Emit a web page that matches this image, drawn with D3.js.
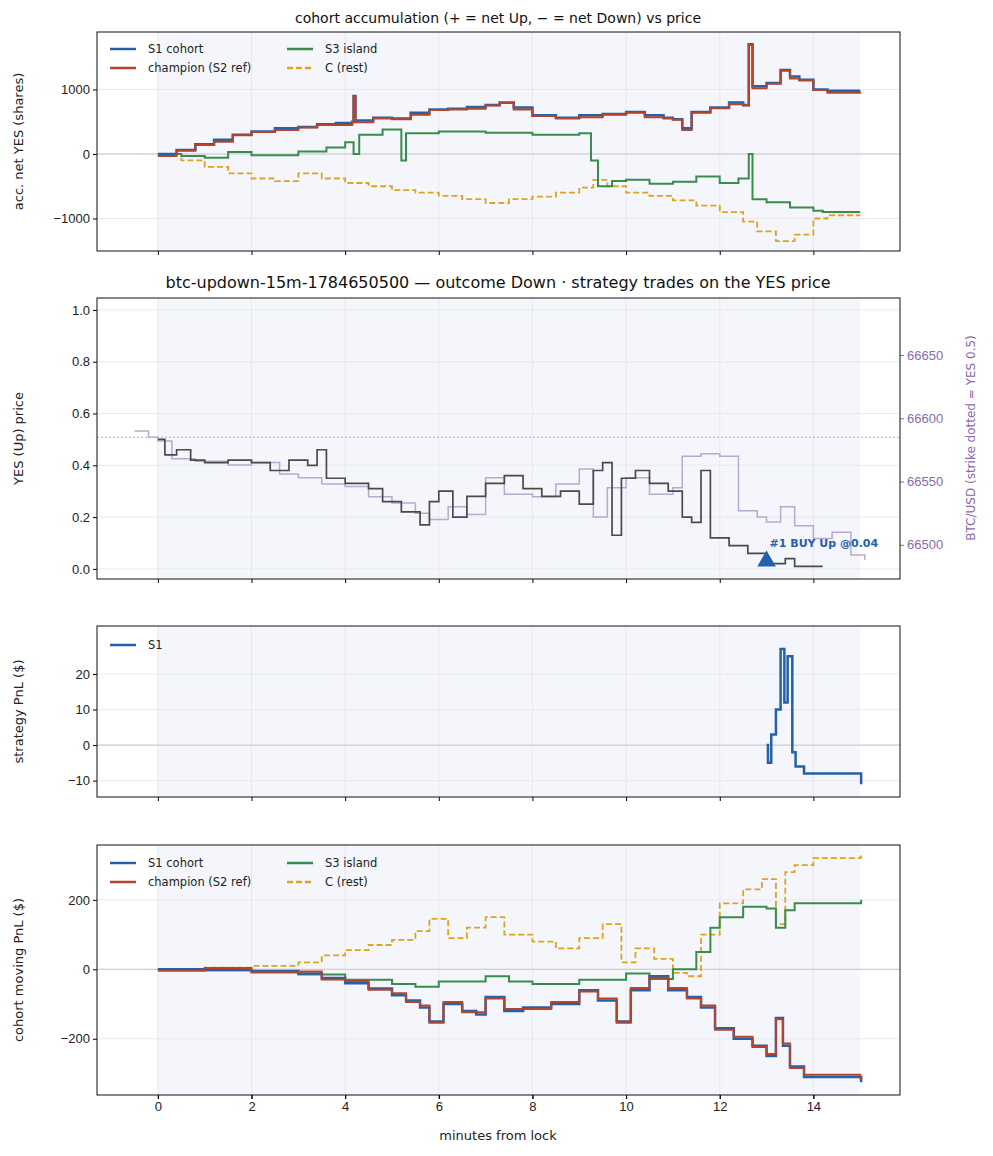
<!DOCTYPE html>
<html><head><meta charset="utf-8">
<script src="https://cdn.jsdelivr.net/npm/d3@7"></script>
<style>body{margin:0;background:#fff;font-family:"DejaVu Sans",sans-serif;}</style>
</head><body><svg id="fig" width="993" height="1156"></svg>
<script>
// ---- data ([minutes, value] step points) ----
var accS1 = [[0,0],[0.4,60],[0.8,150],[1.2,220],[1.6,300],[2,350],[2.5,400],[3,420],[3.4,460],[3.8,480],[4.15,500],[4.18,900],[4.22,520],[4.6,560],[5,550],[5.4,640],[5.8,690],[6.2,700],[6.6,730],[7,760],[7.3,800],[7.6,720],[8,600],[8.5,560],[9,600],[9.5,620],[10,650],[10.4,600],[10.8,560],[11,540],[11.2,400],[11.4,650],[11.8,720],[12.2,800],[12.5,760],[12.62,1700],[12.7,1050],[13,1100],[13.3,1300],[13.5,1200],[13.7,1150],[14,1000],[14.3,980],[15,980]];
var accChamp = accS1.map(function(d,i){ return [d[0], d[1] - (i%3==0 ? 30 : 10)]; });
var accS3 = [[0,0],[0.5,-30],[1,-60],[1.5,30],[2,-20],[3,40],[3.6,100],[4,180],[4.18,0],[4.3,300],[4.8,380],[5.2,-100],[5.3,320],[6,350],[7,330],[8,300],[9,320],[9.25,-100],[9.4,-500],[9.7,-420],[10,-400],[10.5,-460],[11,-430],[11.5,-350],[12,-450],[12.4,-380],[12.62,0],[12.7,-700],[13,-750],[13.5,-830],[14,-880],[14.2,-900],[15,-900]];
var accC = [[0,0],[0.5,-100],[1,-200],[1.5,-300],[2,-380],[2.5,-420],[3,-300],[3.5,-380],[4,-450],[4.5,-500],[5,-560],[5.5,-600],[6,-650],[6.5,-700],[7,-760],[7.5,-700],[8,-660],[8.5,-600],[9,-520],[9.3,-400],[9.6,-500],[10,-600],[10.5,-650],[11,-720],[11.5,-800],[12,-900],[12.5,-1050],[12.8,-1200],[13.2,-1350],[13.6,-1250],[14,-1000],[14.3,-950],[15,-950]];

var yesPrice = [[0,0.5],[0.15,0.44],[0.4,0.46],[0.7,0.42],[1,0.41],[1.5,0.42],[2,0.41],[2.4,0.38],[2.8,0.42],[3.2,0.4],[3.4,0.46],[3.6,0.35],[4,0.33],[4.5,0.31],[4.8,0.26],[5.2,0.22],[5.6,0.17],[5.8,0.26],[6,0.30],[6.3,0.2],[6.6,0.28],[7,0.33],[7.4,0.36],[7.8,0.31],[8.2,0.28],[8.6,0.3],[9,0.25],[9.3,0.38],[9.5,0.41],[9.7,0.13],[9.9,0.35],[10.2,0.38],[10.5,0.33],[10.9,0.3],[11.2,0.2],[11.4,0.18],[11.6,0.38],[11.8,0.12],[12.2,0.09],[12.6,0.06],[13,0.02],[13.4,0.04],[13.6,0.01],[14.2,0.01]];
var btcPrice = [[-0.5,66590],[-0.2,66585],[0,66582],[0.3,66568],[0.8,66566],[1.5,66563],[2,66565],[2.6,66556],[3,66553],[3.5,66548],[4,66546],[4.5,66538],[5,66533],[5.5,66525],[5.8,66520],[6.2,66530],[6.6,66524],[7,66553],[7.4,66540],[8,66538],[8.5,66548],[9,66560],[9.3,66522],[9.6,66545],[10,66553],[10.5,66540],[11,66545],[11.2,66570],[11.6,66572],[12,66570],[12.4,66527],[12.8,66522],[13,66518],[13.3,66530],[13.6,66515],[14,66505],[14.4,66510],[14.8,66492],[15.1,66488]];
var strike = 66585;
var trades = [{t:13, p:0.03, label:"#1 BUY Up @0.04"}];

var pnlS1 = [[13,0],[13.03,-5],[13.1,3],[13.2,10],[13.3,27],[13.38,12],[13.45,25],[13.55,-2],[13.62,-6],[13.8,-8],[14,-8],[15,-8],[15.02,-11]];

var mvS1 = [[0,0],[1,-2],[2,-5],[3,-12],[3.5,-25],[4,-40],[4.5,-55],[5,-75],[5.3,-90],[5.6,-110],[5.8,-150],[6.1,-100],[6.5,-120],[6.8,-130],[7,-80],[7.4,-120],[7.8,-110],[8.4,-100],[9,-60],[9.4,-90],[9.8,-150],[10.1,-60],[10.5,-20],[10.9,-60],[11.3,-80],[11.6,-110],[11.9,-170],[12.3,-200],[12.7,-220],[13,-250],[13.2,-140],[13.35,-220],[13.5,-280],[13.8,-310],[15,-310],[15.02,-325]];
var mvChamp = mvS1.map(function(d,i){ return [d[0], d[1] + (i%2 ? 6 : -4)]; });
var mvS3 = [[0,0],[1,-3],[2,-8],[3,-15],[4,-30],[5,-42],[5.5,-50],[6,-35],[7,-20],[7.5,-35],[8,-42],[9,-30],[10,-12],[10.5,-28],[11,0],[11.5,50],[11.8,120],[12,150],[12.5,180],[13,175],[13.2,120],[13.4,170],[13.6,190],[15,190],[15.02,200]];
var mvC = [[0,0],[1,5],[2,10],[3,20],[3.5,40],[4,55],[4.5,70],[5,85],[5.5,110],[5.8,145],[6.2,90],[6.6,120],[7,150],[7.4,100],[8,80],[8.5,60],[9,90],[9.5,130],[9.9,20],[10.2,60],[10.6,30],[11,-10],[11.3,-20],[11.6,100],[12,190],[12.5,230],[12.9,260],[13.2,130],[13.4,280],[13.6,300],[14,320],[15,322],[15.02,328]];

var xTicks = [0,2,4,6,8,10,12,14];

// ---- layout ----
var L = 97, R = 900;
var svg = d3.select("#fig");
var x = d3.scaleLinear().domain([-1.3, 15.85]).range([L, R]);
var col = {s1:"#2560ab", champ:"#b5442a", s3:"#3b8c4c", c:"#dba520", yes:"#4a4a4a", btc:"#b9a8d2", btcAx:"#8a6aa8"};
var intFmt = d => d < 0 ? "\u2212" + Math.abs(d) : d;

function panel(top, bottom, dom, ticks, ylab, fmt) {
	var y = d3.scaleLinear().domain(dom).range([bottom, top]);
	var g = svg.append("g");
	g.append("rect").attr("x", x(0)).attr("y", top).attr("width", x(15) - x(0)).attr("height", bottom - top).attr("fill", "#f4f6fb");
	xTicks.forEach(function(t){ g.append("line").attr("x1", x(t)).attr("x2", x(t)).attr("y1", top).attr("y2", bottom).attr("stroke", "#e4e6ea").attr("stroke-width", 0.8); });
	ticks.forEach(function(t){ g.append("line").attr("x1", L).attr("x2", R).attr("y1", y(t)).attr("y2", y(t)).attr("stroke", "#e4e6ea").attr("stroke-width", 0.8); });
	g.append("g").attr("transform", "translate(" + L + ",0)")
		.call(d3.axisLeft(y).tickValues(ticks).tickSize(4).tickFormat(fmt || intFmt))
		.call(a => a.select(".domain").remove())
		.selectAll("text").attr("font-size", 13).attr("fill", "#222");
	g.append("g").attr("transform", "translate(0," + bottom + ")")
		.call(d3.axisBottom(x).tickValues(xTicks).tickSize(4).tickFormat(""))
		.call(a => a.select(".domain").remove());
	g.append("text").attr("transform", "translate(" + 23 + "," + (top + bottom) / 2 + ") rotate(-90)")
		.attr("text-anchor", "middle").attr("font-size", 13).attr("fill", "#222").text(ylab);
	return {y: y, g: g, top: top, bottom: bottom};
}
function frame(p) {
	p.g.append("rect").attr("x", L).attr("y", p.top).attr("width", R - L).attr("height", p.bottom - p.top).attr("fill", "none").attr("stroke", "#111").attr("stroke-width", 1);
}
function zero(p) {
	p.g.append("line").attr("x1", L).attr("x2", R).attr("y1", p.y(0)).attr("y2", p.y(0)).attr("stroke", "#c8c8c8").attr("stroke-width", 1);
}
function series(p, data, color, dash, w, yS) {
	var ys = yS || p.y;
	p.g.append("path").datum(data)
		.attr("d", d3.line().x(d => x(d[0])).y(d => ys(d[1])).curve(d3.curveStepAfter))
		.attr("fill", "none").attr("stroke", color).attr("stroke-width", w || 2)
		.attr("stroke-dasharray", dash ? "6,3" : null);
}
function legend(p, items, x0, y0, colW) {
	items.forEach(function(it, i){
		var lx = x0 + Math.floor(i / 2) * colW, ly = y0 + (i % 2) * 19;
		p.g.append("line").attr("x1", lx).attr("x2", lx + 26).attr("y1", ly).attr("y2", ly)
			.attr("stroke", it[1]).attr("stroke-width", 2.5).attr("stroke-dasharray", it[2] ? "6,3" : null);
		p.g.append("text").attr("x", lx + 38).attr("y", ly + 4).attr("font-size", 11.5).attr("fill", "#222").text(it[0]);
	});
}

// panel 1
var p1 = panel(32, 251, [-1504, 1891], [-1000, 0, 1000], "acc. net YES (shares)");
zero(p1);
series(p1, accC, col.c, true, 1.8);
series(p1, accS3, col.s3, false, 2);
series(p1, accS1, col.s1, false, 2.5);
series(p1, accChamp, col.champ, false, 2);
frame(p1);
var leg = [["S1 cohort", col.s1], ["champion (S2 ref)", col.champ], ["S3 island", col.s3], ["C (rest)", col.c, true]];
legend(p1, leg, 110, 49, 177);
svg.append("text").attr("x", 498).attr("y", 23).attr("text-anchor", "middle").attr("font-size", 14).attr("fill", "#111")
	.text("cohort accumulation (+ = net Up, \u2212 = net Down) vs price");

// panel 2
var p2 = panel(298, 579, [-0.039, 1.046], [0, 0.2, 0.4, 0.6, 0.8, 1.0], "YES (Up) price", d3.format(".1f"));
var yB = d3.scaleLinear().domain([66473, 66695]).range([579, 298]);
p2.g.append("g").attr("transform", "translate(" + R + ",0)")
	.call(d3.axisRight(yB).tickValues([66500, 66550, 66600, 66650]).tickSize(4).tickFormat(d3.format("d")))
	.call(a => a.select(".domain").remove())
	.call(a => a.selectAll("line").attr("stroke", col.btcAx))
	.selectAll("text").attr("font-size", 13).attr("fill", col.btcAx);
p2.g.append("text").attr("transform", "translate(975,438) rotate(-90)").attr("text-anchor", "middle")
	.attr("font-size", 12).attr("fill", col.btcAx).text("BTC/USD (strike dotted = YES 0.5)");
p2.g.append("line").attr("x1", L).attr("x2", R).attr("y1", yB(strike)).attr("y2", yB(strike))
	.attr("stroke", col.btc).attr("stroke-width", 1).attr("stroke-dasharray", "2,2");
series(p2, btcPrice, col.btc, false, 1.5, yB);
series(p2, yesPrice, col.yes, false, 1.7);
trades.forEach(function(t){
	p2.g.append("path").attr("d", d3.symbol(d3.symbolTriangle, 150)())
		.attr("transform", "translate(" + x(t.t) + "," + p2.y(t.p) + ")").attr("fill", col.s1);
	p2.g.append("text").attr("x", x(t.t) + 3).attr("y", p2.y(t.p) - 14).attr("font-size", 11).attr("font-weight", "bold")
		.attr("fill", col.s1).text(t.label);
});
frame(p2);
svg.append("text").attr("x", 498).attr("y", 288).attr("text-anchor", "middle").attr("font-size", 16).attr("fill", "#111")
	.text("btc-updown-15m-1784650500 \u2014 outcome Down \u00b7 strategy trades on the YES price");

// panel 3
var p3 = panel(626, 797, [-14.6, 33.5], [-10, 0, 10, 20], "strategy PnL ($)");
zero(p3);
series(p3, pnlS1, col.s1, false, 2.5);
frame(p3);
legend(p3, [["S1", col.s1]], 110, 645, 0);

// panel 4
var p4 = panel(845, 1095, [-362, 358], [-200, 0, 200], "cohort moving PnL ($)");
zero(p4);
series(p4, mvC, col.c, true, 1.8);
series(p4, mvS3, col.s3, false, 2);
series(p4, mvS1, col.s1, false, 2.5);
series(p4, mvChamp, col.champ, false, 2);
frame(p4);
legend(p4, leg, 110, 863, 177);
p4.g.append("g").attr("transform", "translate(0,1095)")
	.call(d3.axisBottom(x).tickValues(xTicks).tickSize(4))
	.call(a => a.select(".domain").remove())
	.selectAll("text").attr("font-size", 13).attr("fill", "#222");
svg.append("text").attr("x", 498).attr("y", 1140).attr("text-anchor", "middle").attr("font-size", 13).attr("fill", "#222").text("minutes from lock");
</script></body></html>
